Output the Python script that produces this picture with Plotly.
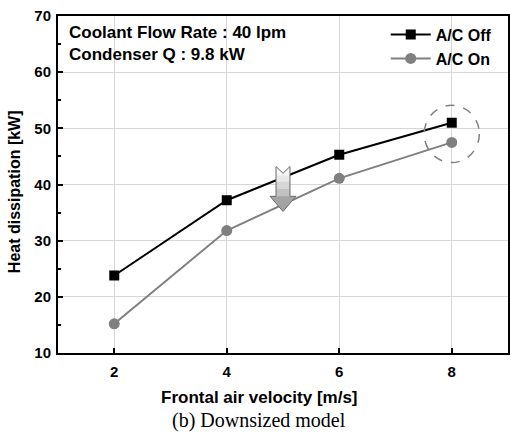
import plotly.graph_objects as go

velocity = [2, 4, 6, 8]
ac_off = [23.8, 37.2, 45.3, 51.0]
ac_on = [15.2, 31.8, 41.1, 47.5]
x_ticks = [2, 4, 6, 8]
y_ticks = [10, 20, 30, 40, 50, 60, 70]

fig = go.Figure()
fig.add_trace(go.Scatter(x=velocity, y=ac_off, name="<b>A/C Off</b>", mode="lines+markers",
                         line=dict(color="black", width=2),
                         marker=dict(symbol="square", size=10, color="black")))
fig.add_trace(go.Scatter(x=velocity, y=ac_on, name="<b>A/C On</b>", mode="lines+markers",
                         line=dict(color="#808080", width=2),
                         marker=dict(symbol="circle", size=11, color="#808080")))

# dashed circle around the 8 m/s points
fig.add_shape(type="circle", xref="x", yref="y", x0=7.51, x1=8.49, y0=43.9, y1=54.1,
              line=dict(color="#808080", width=1.5, dash="dash"))

# downward arrow with notched tail (vertical gradient approximated by bands)
ax = 5.0
w, hw = 0.124, 0.23
full = (f"M {ax-w},43.2 L {ax},42.0 L {ax+w},43.2 L {ax+w},37.9 "
        f"L {ax+hw},37.9 L {ax},35.2 L {ax-hw},37.9 L {ax-w},37.9 Z")
fig.add_shape(type="path", xref="x", yref="y", path=full,
              fillcolor="#a4a4a4", line=dict(width=0))
for ybot, col in [(37.9, "#c2c2c2"), (39.2, "#d6d6d6"), (40.5, "#e8e8e8"), (41.6, "#f6f6f6")]:
    band = (f"M {ax-w},43.2 L {ax},42.0 L {ax+w},43.2 L {ax+w},{ybot} "
            f"L {ax-w},{ybot} Z")
    fig.add_shape(type="path", xref="x", yref="y", path=band,
                  fillcolor=col, line=dict(width=0))
fig.add_shape(type="path", xref="x", yref="y", path=full,
              fillcolor="rgba(0,0,0,0)", line=dict(color="#6a6a6a", width=1))

fig.add_annotation(xref="paper", yref="paper", x=0.02, y=0.985, xanchor="left", yanchor="top",
                   text="<b>Coolant Flow Rate : 40 lpm</b><br><b>Condenser Q : 9.8 kW</b>",
                   showarrow=False, align="left",
                   font=dict(family="Liberation Sans, Arial", size=17, color="black"))
fig.add_annotation(xref="paper", yref="paper", x=0.447, y=-0.131, xanchor="center", yanchor="middle",
                   text="<b>Frontal air velocity [m/s]</b>", showarrow=False,
                   font=dict(family="Liberation Sans, Arial", size=17, color="black"))
fig.add_annotation(xref="paper", yref="paper", x=-0.098, y=0.48, xanchor="center", yanchor="middle",
                   text="<b>Heat dissipation [kW]</b>", showarrow=False, textangle=-90,
                   font=dict(family="Liberation Sans, Arial", size=16, color="black"))
fig.add_annotation(xref="paper", yref="paper", x=0.447, y=-0.199, xanchor="center", yanchor="middle",
                   text="(b) Downsized model", showarrow=False,
                   font=dict(family="Liberation Serif, Times New Roman", size=20, color="black"))

fig.update_layout(
    width=510, height=433,
    margin=dict(l=58, r=2, t=16, b=80),
    plot_bgcolor="white", paper_bgcolor="white",
    font=dict(family="Liberation Sans, Arial", size=15, color="black"),
    showlegend=True,
    legend=dict(x=0.975, y=0.995, xanchor="right", yanchor="top", bgcolor="rgba(0,0,0,0)",
                font=dict(family="Liberation Sans, Arial", size=16, color="black"),
                itemwidth=40, tracegroupgap=0),
    xaxis=dict(range=[1, 9], tickvals=x_ticks, ticktext=[f"<b>{v}</b>" for v in x_ticks],
               showgrid=True, gridcolor="#d6d6d6", gridwidth=1,
               ticks="inside", ticklen=5, tickwidth=2, tickcolor="black",
               showline=True, linecolor="black", linewidth=2, mirror=True, zeroline=False,
               automargin=False, tickfont=dict(size=15), ticklabelstandoff=4),
    yaxis=dict(range=[10, 70], tickvals=y_ticks, ticktext=[f"<b>{v}</b>" for v in y_ticks],
               showgrid=True, gridcolor="#d6d6d6", gridwidth=1,
               ticks="inside", ticklen=5, tickwidth=2, tickcolor="black",
               minor=dict(dtick=5, ticks="inside", ticklen=3, tickcolor="black", showgrid=False),
               showline=True, linecolor="black", linewidth=2, mirror=True, zeroline=False,
               automargin=False, tickfont=dict(size=15), ticklabelstandoff=2),
)

fig.write_html("out.html", config={"displayModeBar": False},
               post_script="document.body.style.margin='0';")
